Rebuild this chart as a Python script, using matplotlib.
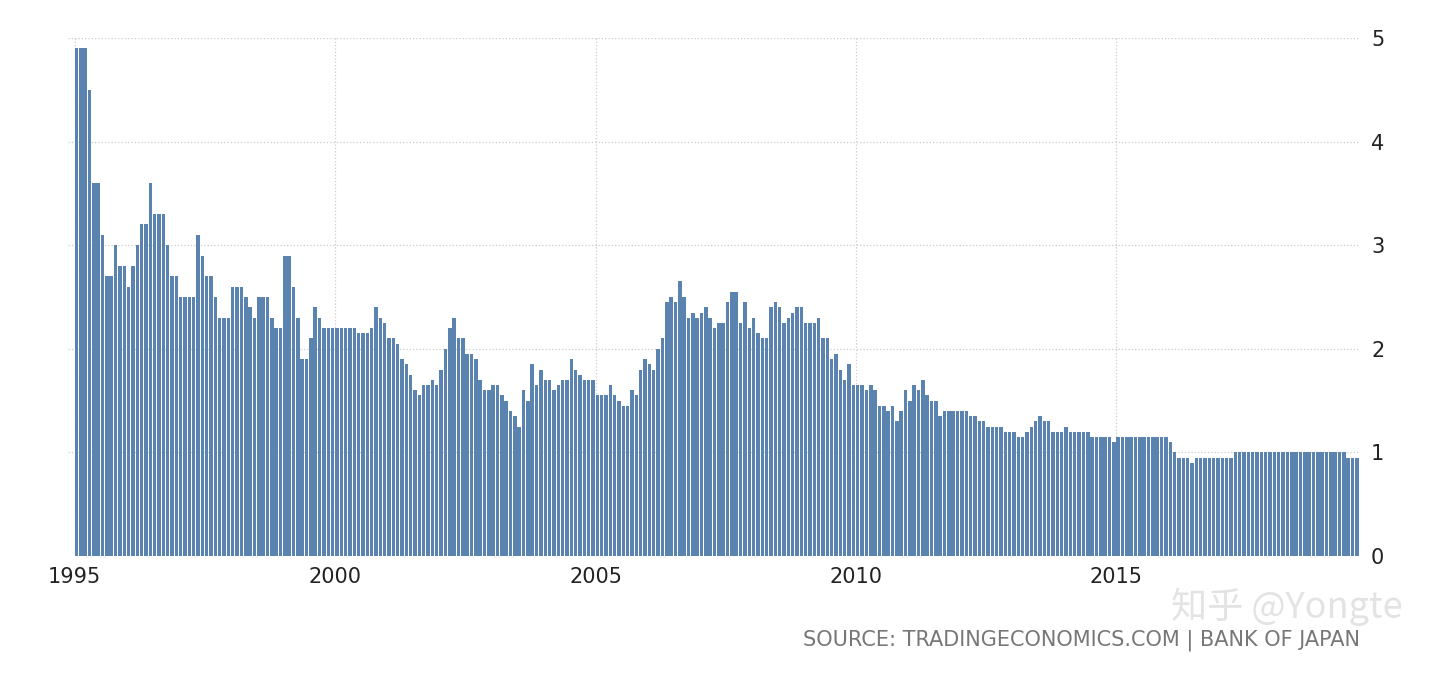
import matplotlib
matplotlib.use("Agg")
import matplotlib.pyplot as plt
import numpy as np

start_year = 1995
values = [4.9,4.9,4.9,4.5,3.6,3.6,3.1,2.7,2.7,3.0,2.8,2.8,2.6,2.8,3.0,3.2,3.2,3.6,3.3,3.3,3.3,3.0,2.7,2.7,
2.5,2.5,2.5,2.5,3.1,2.9,2.7,2.7,2.5,2.3,2.3,2.3,2.6,2.6,2.6,2.5,2.4,2.3,2.5,2.5,2.5,2.3,2.2,2.2,
2.9,2.9,2.6,2.3,1.9,1.9,2.1,2.4,2.3,2.2,2.2,2.2,2.2,2.2,2.2,2.2,2.2,2.15,2.15,2.15,2.2,2.4,2.3,2.25,
2.1,2.1,2.05,1.9,1.85,1.75,1.6,1.55,1.65,1.65,1.7,1.65,1.8,2.0,2.2,2.3,2.1,2.1,1.95,1.95,1.9,1.7,1.6,1.6,
1.65,1.65,1.55,1.5,1.4,1.35,1.25,1.6,1.5,1.85,1.65,1.8,1.7,1.7,1.6,1.65,1.7,1.7,1.9,1.8,1.75,1.7,1.7,1.7,
1.55,1.55,1.55,1.65,1.55,1.5,1.45,1.45,1.6,1.55,1.8,1.9,1.85,1.8,2.0,2.1,2.45,2.5,2.45,2.65,2.5,2.3,2.35,2.3,
2.35,2.4,2.3,2.2,2.25,2.25,2.45,2.55,2.55,2.25,2.45,2.2,2.3,2.15,2.1,2.1,2.4,2.45,2.4,2.25,2.3,2.35,2.4,2.4,
2.25,2.25,2.25,2.3,2.1,2.1,1.9,1.95,1.8,1.7,1.85,1.65,1.65,1.65,1.6,1.65,1.6,1.45,1.45,1.4,1.45,1.3,1.4,1.6,
1.5,1.65,1.6,1.7,1.55,1.5,1.5,1.35,1.4,1.4,1.4,1.4,1.4,1.4,1.35,1.35,1.3,1.3,1.25,1.25,1.25,1.25,1.2,1.2,
1.2,1.15,1.15,1.2,1.25,1.3,1.35,1.3,1.3,1.2,1.2,1.2,1.25,1.2,1.2,1.2,1.2,1.2,1.15,1.15,1.15,1.15,1.15,1.1,
1.15,1.15,1.15,1.15,1.15,1.15,1.15,1.15,1.15,1.15,1.15,1.15,1.1,1.0,0.95,0.95,0.95,0.9,0.95,0.95,0.95,0.95,0.95,0.95,
0.95,0.95,0.95,1.0,1.0,1.0,1.0,1.0,1.0,1.0,1.0,1.0,1.0,1.0,1.0,1.0,1.0,1.0,1.0,1.0,1.0,1.0,1.0,1.0,1.0,1.0,1.0,1.0,1.0,
0.95,0.95,0.95]
x_ticks = [1995, 2000, 2005, 2010, 2015]
y_ticks = [0, 1, 2, 3, 4, 5]

x = start_year + np.arange(len(values)) / 12.0

fig = plt.figure(figsize=(14.4, 6.75), dpi=100)
ax = fig.add_axes([68/1440, 1-556/675, (1360-68)/1440, (556-38)/675])
ax.bar(x, values, width=1/12*0.8, color="#5a83b0", align="edge")
ax.set_ylim(0, 5)
ax.set_xlim(start_year - 0.13, x[-1] + 1/12 + 0.01)
ax.set_xticks(x_ticks)
ax.set_xticklabels([str(t) for t in x_ticks])
ax.set_yticks(y_ticks)
ax.yaxis.tick_right()
ax.tick_params(axis="both", length=0, labelsize=15, colors="#222222")
ax.tick_params(axis="x", pad=8)
ax.tick_params(axis="y", pad=8)
for s in ax.spines.values():
    s.set_visible(False)
ax.grid(True, color="#cccccc", linestyle=":", linewidth=0.9)
ax.set_axisbelow(True)
fig.text(1360/1440, 1-640/675, "SOURCE: TRADINGECONOMICS.COM | BANK OF JAPAN", ha="right", va="center",
         fontsize=15, color="#777777")
fig.text(1403/1440, 1-607/675, "知乎 @Yongte", ha="right", va="center", fontsize=26, color="#dddddd",
         family=["Noto Sans CJK SC", "DejaVu Sans"], alpha=0.8)
fig.savefig("out.png", dpi=100)
